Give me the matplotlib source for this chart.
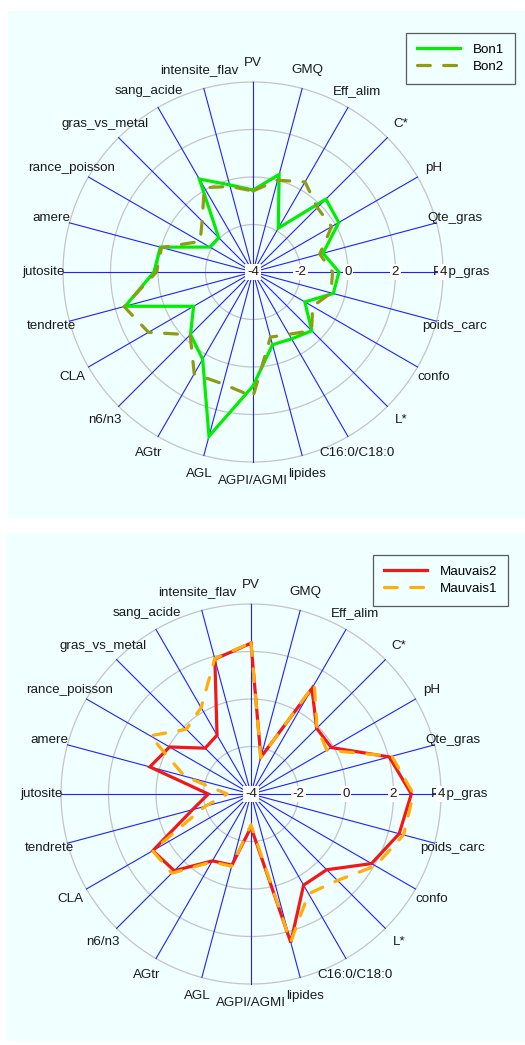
import numpy as np
import matplotlib.pyplot as plt
from matplotlib.patches import Rectangle

plt.rcParams['font.family'] = ['Liberation Sans', 'DejaVu Sans']

# variables around the radar, clockwise from the top
variables = ['PV', 'GMQ', 'Eff_alim', 'C*', 'pH', 'Qte_gras', 'Pep_gras',
             'poids_carc', 'confo', 'L*', 'C16:0/C18:0', 'lipides',
             'AGPI/AGMI', 'AGL', 'AGtr', 'n6/n3', 'CLA', 'tendrete',
             'jutosite', 'amere', 'rance_poisson', 'gras_vs_metal',
             'sang_acide', 'intensite_flav']

bon1 = [-0.55, 0.25, -1.87, 0.34, 0.17, -0.95, -0.38, -0.5, -1.48, -0.5,
        -0.75, -0.83, 0.8, 3.16, 0.24, -0.28, -1.11, 1.57, 0.17, 0.04,
        -1.9, -1.96, 0.52, -0.2]
bon2 = [-0.59, 0.0, 0.38, -0.17, -0.18, -1.09, -0.65, -0.6, -1.1, -0.51,
        -0.97, -1.16, 1.25, 0.88, 0.95, -0.26, 1.08, 1.62, 0.06, -0.01,
        -1.43, -0.97, 0.1, -0.27]
mauvais2 = [2.35, -2.4, 1.13, -0.09, -0.09, 2.03, 2.75, 2.46, 1.86, 0.51,
            0.43, 2.47, -2.6, -0.9, -0.75, 0.57, 0.77, -1.45, -2.2, 0.41,
            -0.04, -1.27, -1.14, 1.88]
mauvais1 = [2.37, -2.42, 1.33, -0.07, -0.31, 2.14, 2.84, 2.65, 2.05, 1.15,
            0.85, 2.45, -2.7, -0.85, -0.7, 0.72, 0.78, -2.0, -3.0, -1.1,
            0.9, -0.15, 0.2, 1.9]

ring_values = [-2, 0, 2, 4]
tick_values = [-4, -2, 0, 2, 4]
r_min, r_max, r_label = -4, 5.3, 4.8

W, H = 525, 1045
fig = plt.figure(figsize=(W / 100, H / 100), dpi=100)
fig.patch.set_facecolor('white')

# azure panels behind each radar
fig.add_artist(Rectangle((8 / W, 1 - 518 / H), (W - 8) / W, 507 / H,
                         transform=fig.transFigure, facecolor='#F0FFFF',
                         edgecolor='none', zorder=-10))
fig.add_artist(Rectangle((6 / W, 1 - 1041 / H), (W - 6) / W, 508 / H,
                         transform=fig.transFigure, facecolor='#F0FFFF',
                         edgecolor='none', zorder=-10))

n = len(variables)
angles = np.arange(n) * 2 * np.pi / n
angles_closed = np.append(angles, angles[0])
circle = np.linspace(0, 2 * np.pi, 361)

unit_px = 190 / 8.0
rad_px = (r_max - r_min) * unit_px


def radar(cx, cy, series, legend_xy):
    ax = fig.add_axes([(cx - rad_px) / W, (H - cy - rad_px) / H,
                       2 * rad_px / W, 2 * rad_px / H], projection='polar')
    ax.set_theta_zero_location('N')
    ax.set_theta_direction(-1)
    ax.set_ylim(r_min, r_max)
    ax.grid(False)
    ax.set_xticks([])
    ax.set_yticks([])
    ax.spines['polar'].set_visible(False)
    ax.patch.set_alpha(0)

    for v in ring_values:
        ax.plot(circle, np.full_like(circle, v), color='#C4C4C4', lw=0.9,
                zorder=1)
    for a in angles:
        ax.plot([a, a], [r_min, 4], color='#2020FF', lw=0.8, zorder=2)

    for vals, color, style, name in series:
        vals_closed = np.append(vals, vals[0])
        if style == 'solid':
            ax.plot(angles_closed, vals_closed, color=color, lw=2.3,
                    label=name, zorder=4, solid_joinstyle='miter')
        else:
            ax.plot(angles_closed, vals_closed, color=color, lw=2.3,
                    dashes=(4, 4.2), dash_capstyle='round',
                    label=name, zorder=5)

    for a, name in zip(angles, variables):
        ax.text(a, r_label, name, ha='center', va='center', fontsize=9.6,
                color='#1a1a1a', clip_on=False, zorder=6)

    for v in tick_values:
        ax.text(np.pi / 2, v, str(v), ha='center', va='center',
                fontsize=9.6, color='#1a1a1a', zorder=7, clip_on=False,
                bbox=dict(boxstyle='square,pad=0.12', fc='white', ec='none'))

    leg = ax.legend(loc='upper right', bbox_to_anchor=legend_xy,
                    bbox_transform=fig.transFigure, fontsize=9.6,
                    frameon=True, fancybox=False, handlelength=3.2,
                    handletextpad=1.0, labelspacing=0.35, borderpad=0.8,
                    borderaxespad=0)
    leg.get_frame().set_facecolor('none')
    leg.get_frame().set_edgecolor('#333333')
    leg.get_frame().set_linewidth(0.9)
    return ax


radar(253, 272,
      [(bon1, '#00EE00', 'solid', 'Bon1'),
       (bon2, '#8E9C12', 'dashed', 'Bon2')],
      (515 / W, 1 - 33 / H))

radar(251, 794,
      [(mauvais2, '#F21818', 'solid', 'Mauvais2'),
       (mauvais1, '#FFAE0A', 'dashed', 'Mauvais1')],
      (508 / W, 1 - 555 / H))

fig.savefig('out.png', dpi=100)
